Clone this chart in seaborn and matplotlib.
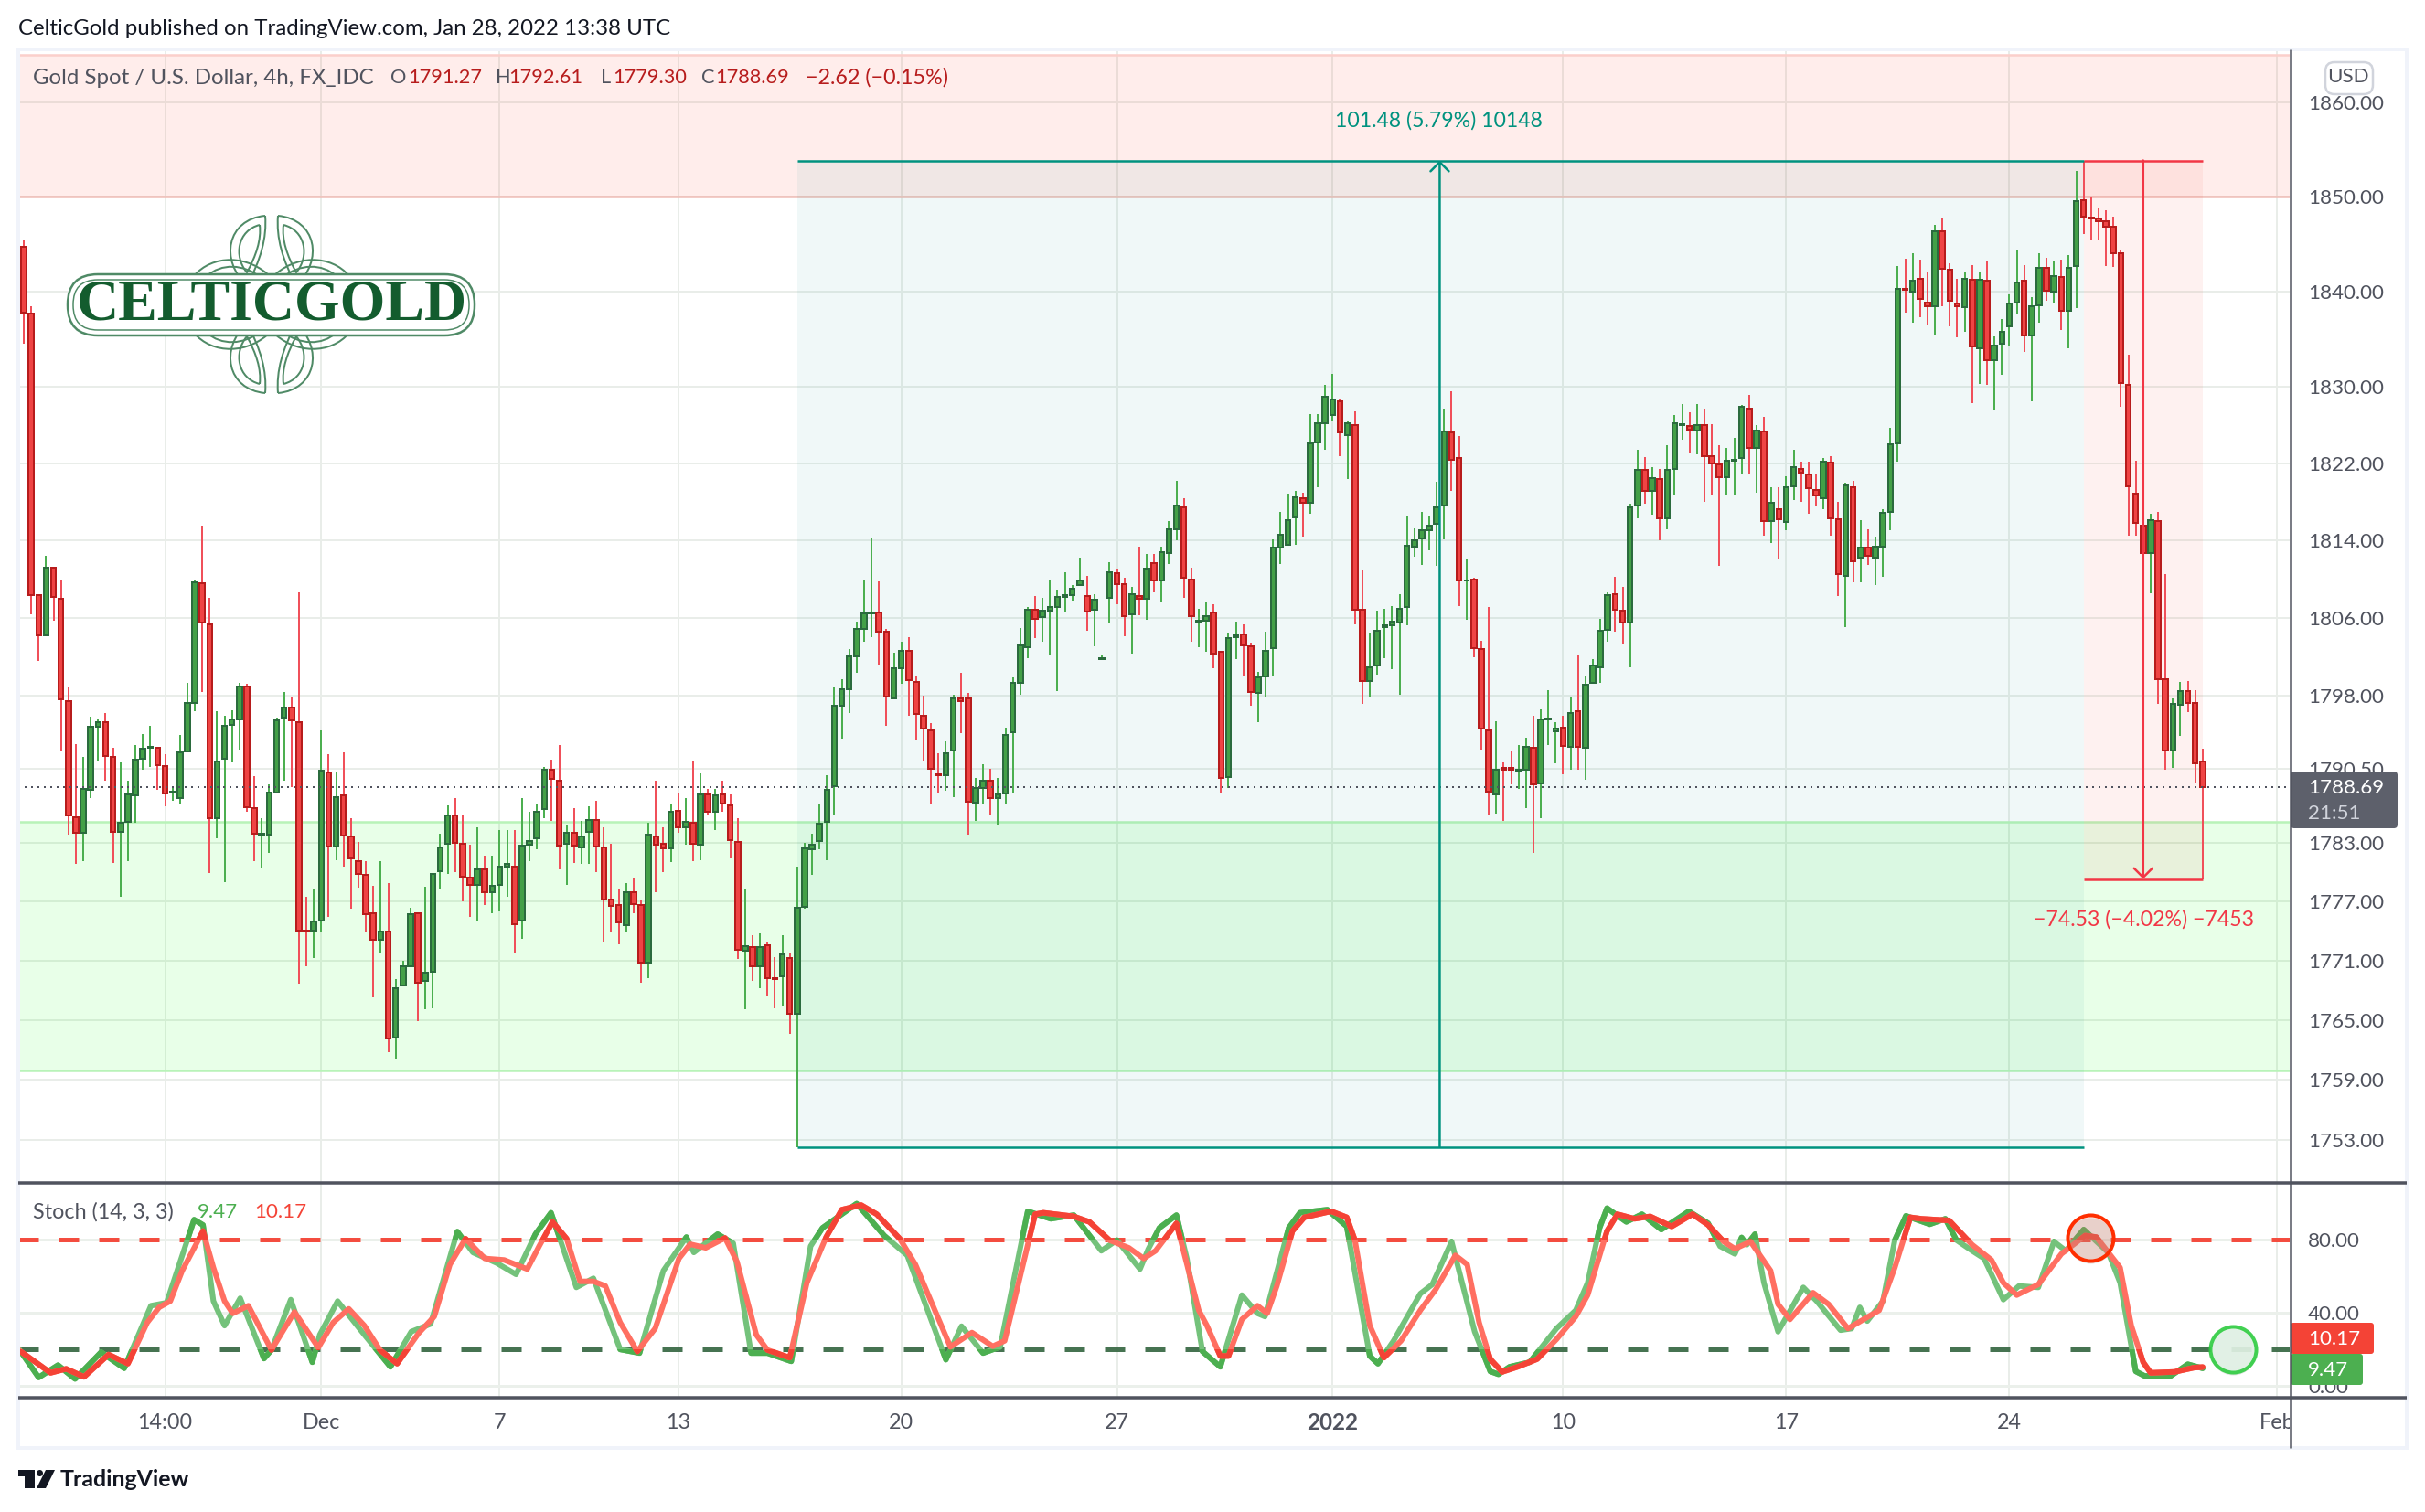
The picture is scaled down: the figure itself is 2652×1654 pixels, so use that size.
"""Gold Spot 4h chart with stochastic, TradingView look."""
import numpy as np
import pandas as pd
import matplotlib
matplotlib.use("Agg")
import matplotlib.pyplot as plt
import seaborn as sns
from matplotlib.patches import FancyBboxPatch, PathPatch, Rectangle
from matplotlib.path import Path
from matplotlib.ticker import NullLocator

W, H = 2652, 1654
FONT = "Lato"

# candles (bar 0 is the one cut by the left edge)
opens = [1846.4,
    1844.7,1837.7,1808.4,1804.2,1811.2,1808.0,1797.5,1785.6,1784.0,1788.4,
    1794.8,1795.3,1791.7,1784.1,1785.1,1787.8,1791.6,1792.7,1792.7,1790.8,
    1788.1,1787.5,1792.3,1797.3,1809.6,1805.4,1785.5,1791.6,1795.0,1795.6,
    1799.0,1786.5,1783.8,1783.8,1788.1,1795.8,1796.8,1795.3,1774.1,1774.1,
    1775.1,1790.2,1782.6,1787.8,1783.6,1781.1,1779.7,1775.8,1773.1,1774.0,
    1763.3,1768.5,1770.5,1775.8,1769.0,1769.9,1780.1,1782.9,1785.8,1782.9,
    1779.4,1778.7,1780.3,1778.0,1778.7,1780.6,1780.6,1775.1,1782.8,1783.4,
    1786.4,1790.4,1789.3,1782.9,1784.0,1782.5,1784.1,1785.3,1782.5,1777.2,
    1776.7,1774.6,1778.0,1776.7,1770.8,1783.6,1782.9,1782.4,1786.2,1784.6,
    1785.0,1782.8,1787.9,1786.1,1787.9,1786.8,1783.1,1772.0,1772.4,1770.5,
    1772.6,1769.3,1769.4,1771.3,1765.7,1776.5,1782.3,1783.2,1785.1,1788.8,
    1797.0,1798.7,1802.1,1804.9,1806.5,1806.6,1804.6,1797.7,1800.8,1802.6,
    1799.4,1796.0,1794.5,1790.0,1789.9,1792.4,1797.7,1797.7,1787.1,1788.6,
    1789.3,1787.5,1788.0,1794.3,1799.3,1803.0,1806.9,1806.1,1806.8,1807.1,
    1808.2,1808.4,1809.4,1808.3,1806.9,1801.8,1808.1,1810.6,1809.5,1806.4,
    1808.3,1808.0,1811.7,1809.9,1812.7,1815.2,1817.5,1810.0,1805.5,1805.7,
    1806.6,1802.5,1789.7,1804.0,1804.3,1803.1,1798.3,1800.0,1802.9,1813.3,
    1813.6,1816.4,1818.4,1817.9,1824.2,1826.2,1827.1,1828.5,1825.0,1826.0,
    1806.9,1799.5,1801.1,1805.1,1805.3,1805.5,1807.1,1813.4,1814.2,1815.1,
    1815.7,1817.6,1825.2,1822.6,1809.9,1810.0,1802.8,1794.5,1787.9,1790.6,
    1790.6,1790.3,1790.4,1792.7,1789.0,1795.6,1794.4,1794.7,1792.8,1796.4,
    1792.7,1799.3,1800.9,1804.8,1808.5,1806.8,1805.5,1817.6,1821.3,1819.2,
    1820.4,1816.3,1821.4,1826.0,1825.9,1825.4,1826.0,1822.8,1821.9,1820.6,
    1822.3,1822.6,1827.7,1823.6,1825.3,1816.0,1817.3,1815.9,1819.6,1821.4,
    1820.9,1819.3,1818.4,1822.1,1816.2,1810.4,1819.5,1812.2,1813.3,1812.2,
    1813.4,1817.0,1824.1,1840.3,1840.0,1841.3,1838.8,1838.4,1846.3,1842.3,
    1838.7,1838.3,1841.2,1834.0,1841.1,1832.8,1834.5,1836.3,1838.8,1841.1,
    1835.4,1838.5,1842.5,1840.0,1841.5,1838.0,1842.7,1849.6,1847.8,1847.7,
    1847.4,1846.8,1844.0,1830.2,1818.9,1815.6,1812.7,1816.0,1799.7,1792.4,
    1797.1,1798.5,1797.3,1791.27]
closes = [1844.9,
    1837.8,1808.4,1804.2,1811.2,1808.2,1797.6,1785.8,1784.0,1788.5,1794.8,
    1795.3,1791.8,1784.1,1785.0,1787.9,1791.5,1792.6,1792.8,1790.9,1788.0,
    1788.2,1792.2,1797.3,1809.7,1805.5,1785.5,1791.3,1794.9,1795.6,1799.0,
    1786.6,1783.9,1783.9,1788.1,1795.5,1796.8,1795.5,1774.1,1774.0,1775.0,
    1790.3,1782.6,1787.6,1783.7,1781.4,1779.8,1775.7,1773.1,1774.0,1763.2,
    1768.2,1770.5,1775.7,1768.8,1769.8,1779.8,1782.5,1785.8,1783.0,1779.5,
    1778.7,1780.3,1778.0,1778.6,1780.6,1780.8,1774.7,1782.7,1783.2,1786.1,
    1790.4,1789.5,1782.7,1784.0,1782.7,1783.6,1785.3,1782.6,1777.2,1776.6,
    1774.9,1778.0,1776.8,1770.8,1783.8,1782.8,1782.4,1786.1,1784.6,1785.1,
    1782.9,1787.9,1786.1,1787.8,1787.0,1783.3,1772.1,1772.5,1770.5,1772.4,
    1769.3,1769.2,1771.7,1765.7,1776.4,1782.4,1782.8,1784.9,1788.4,1797.0,
    1798.7,1802.1,1804.9,1806.5,1806.6,1804.6,1797.9,1800.8,1802.6,1799.6,
    1796.1,1794.6,1790.5,1789.9,1792.1,1797.7,1797.5,1787.2,1788.6,1789.3,
    1787.5,1787.9,1794.0,1799.3,1803.2,1806.9,1805.9,1806.8,1807.1,1808.2,
    1808.4,1809.0,1809.9,1806.7,1807.9,1801.9,1810.7,1809.5,1806.2,1808.5,
    1808.0,1811.1,1809.9,1812.8,1815.2,1817.6,1810.2,1806.2,1805.7,1806.2,
    1802.3,1789.6,1803.9,1804.2,1803.2,1798.4,1799.9,1802.6,1813.3,1814.6,
    1816.1,1818.5,1817.9,1824.1,1826.2,1829.0,1828.7,1825.2,1826.2,1806.9,
    1799.5,1800.9,1804.7,1805.3,1805.6,1807.0,1813.5,1814.0,1815.1,1815.6,
    1817.5,1825.3,1822.4,1809.9,1809.9,1802.9,1794.6,1788.2,1790.4,1790.4,
    1790.4,1790.4,1792.8,1788.9,1795.6,1795.7,1794.6,1792.9,1796.2,1792.8,
    1799.1,1801.1,1804.7,1808.4,1806.9,1805.5,1817.5,1821.3,1819.2,1820.5,
    1816.3,1821.3,1826.2,1826.1,1825.5,1826.0,1822.8,1822.0,1820.6,1822.3,
    1822.4,1827.9,1823.6,1825.4,1816.0,1817.9,1816.2,1819.5,1821.6,1821.1,
    1819.4,1818.7,1822.2,1816.3,1810.5,1819.7,1811.9,1813.3,1812.4,1813.4,
    1816.9,1824.0,1840.3,1840.2,1841.1,1839.2,1838.4,1846.3,1842.4,1839.0,
    1838.4,1841.3,1834.2,1841.2,1832.8,1834.3,1835.8,1838.7,1840.9,1835.4,
    1838.4,1842.5,1840.1,1841.6,1838.0,1842.5,1849.5,1847.9,1847.7,1847.4,
    1846.8,1844.0,1830.4,1819.6,1815.8,1812.7,1816.1,1799.7,1792.4,1797.2,
    1798.5,1797.3,1791.1,1788.69]
highs = [1846.4,
    1845.5,1838.4,1808.4,1812.4,1811.2,1809.9,1799.0,1793.1,1791.7,1795.9,
    1795.7,1796.2,1792.7,1791.2,1789.3,1793.0,1794.1,1794.9,1792.8,1792.0,
    1788.8,1794.0,1799.3,1810.0,1815.6,1808.1,1796.4,1796.0,1796.5,1799.3,
    1799.2,1789.8,1785.5,1788.9,1795.8,1798.4,1797.8,1808.7,1777.5,1778.3,
    1794.5,1792.0,1790.2,1792.2,1785.5,1783.1,1781.1,1778.6,1781.1,1778.9,
    1769.2,1771.0,1776.4,1775.9,1778.5,1779.9,1783.9,1786.8,1787.5,1785.8,
    1782.8,1784.6,1781.7,1781.7,1784.3,1784.3,1784.3,1787.5,1786.1,1787.0,
    1790.7,1791.5,1793.0,1784.7,1786.5,1785.2,1786.7,1787.3,1784.6,1782.9,
    1778.2,1778.9,1779.4,1777.2,1785.0,1789.3,1784.6,1786.9,1788.0,1787.5,
    1791.4,1790.1,1788.5,1788.5,1789.3,1787.9,1785.5,1778.2,1773.6,1773.8,
    1773.0,1771.4,1773.6,1771.8,1780.6,1783.0,1783.9,1786.9,1789.9,1799.0,
    1799.7,1802.8,1805.6,1809.9,1814.2,1809.8,1804.9,1802.4,1803.6,1804.0,
    1800.1,1798.0,1795.2,1792.1,1793.3,1798.1,1800.4,1798.3,1789.6,1791.0,
    1790.5,1789.6,1794.7,1799.9,1805.0,1807.1,1808.3,1808.1,1810.0,1808.9,
    1810.7,1809.4,1812.2,1810.4,1808.5,1802.2,1811.8,1811.1,1810.2,1809.2,
    1813.4,1812.6,1812.6,1813.4,1816.0,1820.2,1818.4,1811.2,1807.0,1807.6,
    1807.4,1802.6,1804.5,1805.6,1805.4,1803.5,1800.5,1804.6,1814.1,1817.0,
    1818.9,1819.2,1819.0,1827.2,1827.2,1830.2,1831.4,1828.7,1826.4,1827.4,
    1811.0,1804.5,1806.8,1807.0,1807.2,1808.5,1816.6,1815.3,1817.0,1816.5,
    1820.1,1827.7,1829.5,1824.9,1812.1,1810.2,1803.7,1807.1,1795.4,1791.2,
    1792.4,1793.0,1793.7,1796.0,1796.6,1798.6,1795.3,1796.0,1797.8,1802.2,
    1800.0,1801.8,1805.9,1808.7,1810.3,1809.2,1817.8,1823.4,1822.7,1821.6,
    1821.4,1823.9,1827.1,1828.2,1827.3,1828.2,1827.7,1826.1,1823.9,1823.6,
    1824.7,1828.1,1829.2,1826.0,1826.9,1819.5,1819.5,1820.7,1823.4,1822.2,
    1822.2,1821.0,1822.6,1822.8,1818.0,1820.0,1820.2,1816.1,1815.2,1814.4,
    1817.3,1825.7,1842.7,1843.4,1844.0,1843.3,1842.1,1847.0,1847.8,1843.0,
    1841.3,1842.1,1842.8,1842.0,1843.1,1835.3,1837.1,1839.7,1844.4,1842.8,
    1839.4,1844.0,1843.5,1843.1,1843.3,1843.8,1852.7,1853.8,1849.9,1848.8,
    1848.5,1847.9,1844.3,1833.4,1822.3,1818.0,1816.8,1817.0,1810.5,1797.7,
    1799.4,1799.5,1798.6,1792.61]
lows = [1844.9,
    1834.5,1806.4,1801.6,1804.2,1805.7,1792.3,1783.8,1780.8,1781.1,1787.5,
    1791.3,1789.3,1780.9,1777.5,1781.1,1785.0,1790.4,1790.7,1788.4,1786.7,
    1787.3,1787.0,1796.4,1796.4,1798.4,1779.9,1783.4,1779.0,1791.2,1792.5,
    1786.1,1781.1,1780.4,1782.0,1788.0,1789.3,1788.7,1768.7,1770.5,1771.3,
    1773.9,1775.5,1781.2,1780.6,1776.3,1778.4,1774.0,1767.3,1771.8,1761.8,
    1761.1,1768.4,1770.4,1764.9,1766.1,1766.2,1778.2,1779.8,1780.0,1777.0,
    1775.5,1775.1,1776.7,1775.8,1776.0,1777.5,1771.8,1773.2,1781.1,1782.3,
    1785.5,1785.2,1780.3,1778.7,1780.9,1780.8,1780.8,1780.0,1773.0,1774.0,
    1772.7,1774.0,1775.8,1768.8,1769.3,1778.0,1780.0,1781.0,1784.0,1782.8,
    1781.1,1781.2,1785.8,1784.3,1786.1,1781.4,1771.2,1766.1,1769.0,1768.2,
    1767.5,1766.2,1766.5,1763.6,1752.3,1776.3,1779.7,1782.3,1781.2,1785.8,
    1793.6,1796.2,1800.4,1803.6,1804.0,1801.1,1794.9,1797.6,1799.2,1796.0,
    1793.5,1791.3,1786.9,1788.0,1788.3,1787.6,1794.2,1783.8,1785.2,1786.9,
    1785.8,1784.8,1787.0,1788.0,1798.1,1801.9,1803.9,1803.6,1802.2,1798.5,
    1806.6,1807.8,1809.3,1804.7,1803.1,1801.7,1805.5,1807.4,1804.1,1802.3,
    1806.3,1805.8,1808.7,1807.6,1811.6,1814.0,1808.1,1803.6,1803.0,1802.5,
    1800.8,1788.1,1788.6,1801.8,1800.1,1797.0,1795.3,1797.9,1800.0,1811.6,
    1813.5,1813.6,1814.4,1816.8,1819.5,1823.4,1826.4,1822.8,1820.4,1805.4,
    1797.2,1797.9,1800.2,1801.9,1800.7,1798.1,1805.3,1812.3,1811.5,1813.0,
    1811.4,1814.1,1819.2,1807.2,1805.8,1802.0,1792.5,1785.8,1786.0,1785.2,
    1788.9,1788.5,1786.5,1782.0,1785.5,1793.0,1791.1,1790.0,1790.4,1790.4,
    1789.4,1799.3,1799.3,1803.6,1804.6,1803.3,1800.9,1816.3,1817.8,1816.7,
    1814.0,1815.2,1818.8,1824.5,1823.1,1823.0,1818.0,1818.8,1811.4,1818.7,
    1818.7,1821.0,1821.0,1819.0,1814.5,1813.8,1812.1,1815.1,1818.2,1818.0,
    1816.8,1817.6,1817.3,1814.5,1808.3,1805.1,1809.7,1809.7,1811.5,1809.4,
    1810.3,1815.1,1822.2,1837.8,1836.7,1837.3,1836.5,1835.4,1838.4,1836.3,
    1835.2,1835.8,1828.3,1830.3,1830.2,1827.5,1831.3,1834.3,1837.7,1833.6,
    1828.5,1836.7,1839.0,1838.8,1835.9,1834.0,1838.2,1846.0,1845.4,1845.5,
    1842.7,1842.6,1827.9,1814.5,1814.5,1811.6,1808.6,1797.2,1790.4,1790.6,
    1793.9,1796.3,1789.1,1779.3]

# stochastic turning points: bar number and value
k_bar = [0.3,3,5.6,7.9,11.4,14.5,18.1,20.2,23.9,25.1,26.5,28,30.1,33.3,34.3,36.9,39.8,40.8,43.2,46.8,
    50.3,53.1,55.7,59.3,61.4,64.6,67.2,69.8,71.9,75.3,77.6,81.2,83.8,87,90.1,91.1,94.3,96.4,98.8,101,
    104.2,106.8,108.4,113,116.7,119.8,125,127.1,130,132.3,136,139.1,142.2,145.9,148,151.1,152.2,153.7,156,157.4,
    159.5,161.9,164.8,166.9,167.9,171.1,172.6,176.3,178.9,182,183.1,185.2,188.8,190.4,193,196.1,198.2,199.3,200.8,203.5,
    207.1,209.7,211.3,212.9,213.9,216.5,218.6,221.2,224.9,227.5,229.1,231.1,232,232.7,233.8,235,236.9,240.3,242.1,245.3,
    246.8,247.9,248.9,251,252.6,254.1,257.3,259.4,260.9,263,264.6,267.2,269.3,271.9,274,275.6,278,281.3,282.9,285,
    286.2,289.7,292,294]
k_val = [20.3,4.5,11.2,3.7,18.3,9.5,43.7,45.3,90.7,87.8,46.2,32.8,47.8,14.8,19.5,47,12.8,27.8,46.2,27.8,
    10.3,29.5,33.7,84.2,72.8,67,60.8,82.8,94.5,53.7,58.7,19.8,17.8,62.8,81.2,72.8,82.8,77.8,17.8,17.8,
    13.3,76.2,86.2,99.5,82,71.2,14.2,32.5,17.8,21.2,95.3,91.2,93.2,73.7,79.5,63.7,74.5,86.2,93.2,69.5,
    18.7,10.3,49.5,39.5,37.8,86.2,94.5,96.2,87,16.2,12,24.5,50.3,55.3,78.7,29.5,7.8,6.2,10.3,12.8,
    31.2,41.2,56.2,86.2,97,89.5,93.7,85.3,95.3,88.7,76.2,72,81,77,82.8,56.2,29.5,53.7,46.2,30.3,
    31.2,42.8,35.3,46.2,79.5,92.8,88.2,91.2,79.5,73.7,69.5,47,54.5,53.7,78.7,73.7,85.3,72.8,56.2,7.8,
    5.3,5.3,11.7,9.47]
d_bar = [0.3,4.6,6.7,9.1,12.4,15,17.6,19.2,20.7,22.3,25.1,26.5,28,29.1,31.2,34.3,37.4,40.6,42.6,44.7,
    46.8,48.9,51.2,54.1,56.2,58.3,60.4,63,65.6,68.7,70.3,72.1,74,75.8,77.6,79.2,81.2,83.5,85.9,89.1,
    90.6,92.7,95.3,96.9,99.5,101,104,106.3,108.9,111,113.6,115.7,118.8,120.9,125.6,128.5,131.3,132.9,137,138.1,
    142.2,144.3,147,149.6,151.6,153.2,156,159,160.1,161.9,163,164.8,166.9,168.2,169.5,171.6,173.2,176.8,178.9,180,
    182,183.9,186.2,188.8,190.9,193.5,195.1,196.7,198.2,199.8,201.9,204.5,207.1,209.7,211.3,213.9,215.3,217.6,219.7,222.6,
    225.4,227.5,229.6,231.1,233.2,235.9,236.9,238.5,241.6,243.7,246.3,250.5,252.6,254.7,256.2,259.9,263,265.6,267.2,269,
    271.9,275,278.2,279.7,282.9,284.4,286,287,290.2,292.8,294]
d_val = [19.5,7,9.2,4.8,17,12,34.5,42.8,46.2,62.8,84.5,64.5,46.2,39.5,43.7,19.5,40.3,20.8,34.5,42,
    32.8,19.5,12,28.7,37.8,66.2,80.3,69.5,68.7,63.7,76.2,89.5,80.3,57,57,54.5,34.5,18.7,31.2,69.5,
    77.3,75.3,80.7,67.8,27.8,19.5,15.3,56.2,81.2,96.2,98.7,93.7,80.3,66.2,21.2,29,21.5,24.5,93.7,94.5,
    92.5,89.5,79.5,75.3,69.5,73.7,88.7,41.2,32.8,16.2,16.2,36.2,43.7,39.5,54.5,84.5,92,95.3,92,79.5,
    32.8,15.3,24.5,41.2,52.8,71.2,66.2,34.5,14.5,7.5,10.3,14.5,25.3,37.8,49.5,84.5,93.7,91.2,92.5,87,
    93.7,87.8,78.7,74.8,78.7,62.8,44.5,36.2,50.8,44.5,31.2,41.2,64.5,92,91.2,90.3,77,68.7,56.2,49.5,
    55.3,72,82,81.2,64.5,32.8,12.8,7,7.5,9.8,10.17]

price_ticks = [1860, 1850, 1840, 1830, 1822, 1814, 1806, 1798, 1790.5, 1783, 1777, 1771, 1765, 1759, 1753]
stoch_ticks = [80, 40, 0]
time_bars = [20, 41, 65, 89, 119, 148, 177, 208, 238, 268, 304]
time_labels = ["14:00", "Dec", "7", "13", "20", "27", "2022", "10", "17", "24", "Feb"]

last_price = 1788.69
supply_zone = (1850, 1865)
demand_zone = (1760, 1785.1)
range_top, long_low, short_low = 1853.8, 1752.3, 1779.3
long_start, long_end, long_mid = 105, 278, 191.4
short_end, short_mid = 294, 286

GRID = "#E9EDE9"
TEXT = "#50535E"
TEAL = "#00927F"
RED = "#F23645"
FS_NUM = 16.1
FS_LAB = 17.3


def px(v):
    return v * 72 / 100


def axes_rect(x0, y0, x1, y1):
    return [x0 / W, 1 - y1 / H, (x1 - x0) / W, (y1 - y0) / H]


sns.set_theme(style="white")
plt.rcParams["font.family"] = [FONT, "DejaVu Sans"]
plt.rcParams["axes.unicode_minus"] = False

fig = plt.figure(figsize=(W / 100, H / 100), dpi=100, facecolor="white")
ax = fig.add_axes(axes_rect(20, 56, 2504, 1294))
ax_st = fig.add_axes(axes_rect(20, 1294, 2504, 1529))
ax_t = fig.add_axes(axes_rect(20, 1529, 2504, 1584))
for a in (ax, ax_st, ax_t):
    a.set_xlim(0.26, 305.7)
    a.set_facecolor("none")
    for s in a.spines.values():
        s.set_visible(False)
    a.tick_params(length=0)
    a.set_xticks(time_bars)
    a.set_xticklabels([])
    a.set_axisbelow(True)
    a.grid(True, axis="x", color=GRID, lw=px(2))

# price panel
ax.set_yscale("log")
ax.set_ylim(1748.7, 1865.4)
ax.yaxis.set_minor_locator(NullLocator())
ax.yaxis.tick_right()
ax.set_yticks(price_ticks)
ax.set_yticklabels([f"{p:.2f}" for p in price_ticks], color=TEXT, fontsize=FS_NUM)
ax.tick_params(axis="y", pad=px(20))
ax.grid(True, axis="y", color=GRID, lw=px(2))

ax.axhspan(*supply_zone, facecolor="#FF5040", alpha=0.10, lw=0, zorder=1)
ax.axhspan(*demand_zone, facecolor="#00FF00", alpha=0.09, lw=0, zorder=1)
for level, c in [(supply_zone[0], "#F0BDB6"), (supply_zone[1], "#FBCFCB"),
                 (demand_zone[0], "#B8F3B8"), (demand_zone[1], "#B8F3B8")]:
    ax.axhline(level, color=c, lw=px(2.5), zorder=1.5)

ax.fill_between([long_start, long_end], long_low, range_top, color="#009688", alpha=0.06, lw=0, zorder=2)
ax.fill_between([long_end, short_end], short_low, range_top, color="#F44336", alpha=0.07, lw=0, zorder=2)

df = pd.DataFrame({"open": opens, "high": highs, "low": lows, "close": closes})
df["bar"] = df.index
for up, sub in df.groupby(df["close"] >= df["open"]):
    wick, fill, edge = ("#4CAF50", "#43A047", "#2B6B3E") if up else ("#F0505A", "#EF4444", "#B71C1C")
    ax.vlines(sub["bar"], sub["low"], sub["high"], color=wick, lw=px(2), zorder=3)
    ax.bar(sub["bar"], (sub["close"] - sub["open"]).abs(), bottom=sub[["open", "close"]].min(axis=1),
           width=0.68, color=fill, edgecolor=edge, lw=px(2), zorder=3.5)
ax.set_ylim(1748.7, 1865.4)
ax.set_xlim(0.26, 305.7)

ax.axhline(last_price, color="#50535E", lw=px(2), ls=(0, (1, 2.5)), zorder=4)

# price range tools
ax.hlines(range_top, long_start, long_end, color=TEAL, lw=px(2.5), zorder=4)
ax.hlines(long_low, long_start, long_end, color=TEAL, lw=px(2.5), zorder=4)
ax.hlines(range_top, long_end, short_end, color=RED, lw=px(2.5), zorder=4)
ax.hlines(short_low, long_end, short_end, color=RED, lw=px(2.5), zorder=4)
HEAD = "->,head_length=0.36,head_width=0.36"
ax.annotate("", xy=(long_mid, range_top), xytext=(long_mid, long_low), zorder=4,
            arrowprops=dict(arrowstyle=HEAD, color=TEAL, lw=px(2.5), mutation_scale=20, shrinkA=0, shrinkB=0))
ax.annotate("", xy=(short_mid, short_low), xytext=(short_mid, range_top), zorder=4,
            arrowprops=dict(arrowstyle=HEAD, color=RED, lw=px(2.5), mutation_scale=20, shrinkA=0, shrinkB=0))

# stochastic panel
ax_st.set_ylim(-6.6, 110.8)
ax_st.yaxis.tick_right()
ax_st.set_yticks(stoch_ticks)
ax_st.set_yticklabels([f"{v:.2f}" for v in stoch_ticks], color=TEXT, fontsize=FS_NUM)
ax_st.tick_params(axis="y", pad=px(20))
ax_st.grid(True, axis="y", color="#EBF0EB", lw=px(3))
ax_st.axhline(80, color="#F44336", lw=px(5), ls=(0, (4.4, 4.4)), alpha=0.95, zorder=2)
ax_st.axhline(20, color="#3C6B48", lw=px(5), ls=(0, (4.4, 4.4)), alpha=0.95, zorder=2)


def stoch_line(bars, vals, soft, strong, z):
    sns.lineplot(x=bars, y=vals, ax=ax_st, color=soft, lw=px(6), sort=False, estimator=None, zorder=z)
    # the parts beyond the 20/80 levels are drawn in the full colour
    for lo, hi in [(-10, 20), (80, 115)]:
        sns.lineplot(x=bars, y=vals, ax=ax_st, color=strong, lw=px(6), sort=False, estimator=None, zorder=z + 0.1)
        clip = Rectangle((0, lo), 310, hi - lo, transform=ax_st.transData)
        ax_st.lines[-1].set_clip_path(clip)


stoch_line(k_bar, k_val, "#74C27B", "#4CAF50", 3)
stoch_line(d_bar, d_val, "#FF6F61", "#F44336", 4)
ax_st.set_xlim(0.26, 305.7)
ax_st.set_ylim(-6.6, 110.8)
ax_st.set_xlabel("")
ax_st.set_ylabel("")

# markers around the two turning points
ax_st.scatter([278.9], [79.3], s=1300, color="#999999", alpha=0.25, lw=0, zorder=4.6)
ax_st.scatter([278.9], [80.8], s=1300, facecolor=(1, 0.35, 0.2, 0.15), edgecolor="#FF2E00", lw=px(4), zorder=5)
ax_st.scatter([298.1], [18.4], s=1300, color="#999999", alpha=0.25, lw=0, zorder=4.6)
ax_st.scatter([298.1], [19.9], s=1300, facecolor="#E1F2E5", edgecolor="#2ECC40", lw=px(4), alpha=0.9, zorder=5)

# time scale
ax_t.set_ylim(0, 1)
ax_t.set_yticks([])
ax_t.grid(False)
for b, lab in zip(time_bars, time_labels):
    ax_t.text(b, 0.50, lab, ha="center", va="center", color=TEXT, fontsize=17.5 if lab == "2022" else 16.8,
              clip_on=True, fontweight="bold" if lab == "2022" else "normal")

# decoration and labels in picture pixels
ov = fig.add_axes([0, 0, 1, 1], zorder=10)
ov.set_xlim(0, W)
ov.set_ylim(H, 0)
ov.axis("off")
ov.patch.set_alpha(0)

ov.add_patch(Rectangle((20, 54), 2612, 1530, fill=False, edgecolor="#F0F3FA", lw=px(4)))
ov.plot([20, 2632], [1294, 1294], color=TEXT, lw=px(3.5), solid_capstyle="butt")
ov.plot([20, 2632], [1529, 1529], color=TEXT, lw=px(3.5), solid_capstyle="butt")
ov.plot([2504.5, 2504.5], [54, 1584], color=TEXT, lw=px(2.5), solid_capstyle="butt")

ov.text(20, 31, "CelticGold published on TradingView.com, Jan 28, 2022 13:38 UTC",
        color="#131722", fontsize=FS_LAB, va="center")
ov.text(36, 85, "Gold Spot / U.S. Dollar, 4h, FX_IDC", color=TEXT, fontsize=FS_LAB, va="center")
DOWN = "#B71C1C"
for x, s, c, fs in [(427, "O", TEXT, 15.7), (446, "1791.27", DOWN, 15.7), (542, "H", TEXT, 15.7),
                    (556, "1792.61", DOWN, 15.7), (657, "L", TEXT, 15.7), (670, "1779.30", DOWN, 15.7),
                    (767, "C", TEXT, 15.7), (782, "1788.69", DOWN, 15.7),
                    (881, "\u22122.62 (\u22120.15%)", DOWN, 16.8)]:
    ov.text(x, 85, s, color=c, fontsize=fs, va="center")
ov.text(36, 1326, "Stoch (14, 3, 3)", color=TEXT, fontsize=16.8, va="center")
ov.text(216, 1326, "9.47", color="#4CAF50", fontsize=FS_NUM, va="center")
ov.text(278, 1326, "10.17", color="#F44336", fontsize=FS_NUM, va="center")

ov.text(1573, 132, "101.48 (5.79%) 10148", color=TEAL, fontsize=16.6, ha="center", va="center")
ov.text(2344, 1006, "\u221274.53 (\u22124.02%) \u22127453", color=RED, fontsize=16.7, ha="center", va="center")

ov.add_patch(FancyBboxPatch((2546, 71), 46, 29, boxstyle="round,pad=3,rounding_size=10",
                            facecolor="white", edgecolor="#D1D4DC", lw=px(2.5)))
ov.text(2568, 84, "USD", color=TEXT, fontsize=FS_NUM, ha="center", va="center")

ov.add_patch(FancyBboxPatch((2505, 844), 117, 62, boxstyle="round,pad=0,rounding_size=4", facecolor="#5D606B", lw=0))
ov.text(2524, 862, "1788.69", color="white", fontsize=FS_NUM, va="center")
ov.text(2524, 890, "21:51", color="#D1D4DC", fontsize=FS_NUM, va="center")
ov.add_patch(FancyBboxPatch((2505, 1447), 91, 34, boxstyle="round,pad=0,rounding_size=3", facecolor="#F44336", lw=0))
ov.text(2524, 1465, "10.17", color="white", fontsize=FS_NUM, va="center")
ov.add_patch(FancyBboxPatch((2505, 1481), 79, 34, boxstyle="round,pad=0,rounding_size=3", facecolor="#4CAF50", lw=0))
ov.text(2524, 1499, "9.47", color="white", fontsize=FS_NUM, va="center")

# CelticGold logo
LOGO = "#4F8A66"
CX, CY = 297, 333


def knot(points, **kw):
    codes = [Path.MOVETO] + [Path.CURVE4] * (len(points) - 1)
    for sx in (1, -1):
        for sy in (1, -1):
            pts = [(CX + sx * (x - CX), CY + sy * (y - CY)) for x, y in points]
            ov.add_patch(PathPatch(Path(pts, codes), fill=False, edgecolor=LOGO, lw=px(2), **kw))


knot([(290, 236), (248, 240), (240, 285), (270, 312), (285, 285), (292, 260), (290, 236)])
knot([(284, 246), (260, 252), (255, 280), (270, 298), (280, 280), (286, 262), (284, 246)])
knot([(212, 302), (232, 278), (272, 278), (297, 304)])
knot([(226, 302), (242, 288), (266, 288), (286, 304)])
ov.add_patch(FancyBboxPatch((74, 300), 445, 67, boxstyle="round,pad=0,rounding_size=33",
                            facecolor="white", edgecolor=LOGO, lw=px(2.5)))
ov.add_patch(FancyBboxPatch((80, 306), 433, 55, boxstyle="round,pad=0,rounding_size=27",
                            facecolor="white", edgecolor=LOGO, lw=px(1.5)))
ov.text(297, 334, "CELTICGOLD", family="Liberation Serif", fontweight="bold", color="#135C2E",
        fontsize=46, ha="center", va="center")

# TradingView logo
ov.add_patch(Rectangle((20, 1608), 18, 7, color="#131722", lw=0))
ov.add_patch(Rectangle((27, 1608), 11, 20, color="#131722", lw=0))
ov.add_patch(plt.Circle((43.5, 1611.5), 3.5, color="#131722", lw=0))
ov.add_patch(plt.Polygon([(50, 1608), (60, 1608), (50, 1628), (40, 1628)], color="#131722", lw=0))
ov.text(66, 1618, "TradingView", color="#131722", fontsize=17.9, fontweight="bold", va="center")

fig.savefig("out.png", dpi=100)
